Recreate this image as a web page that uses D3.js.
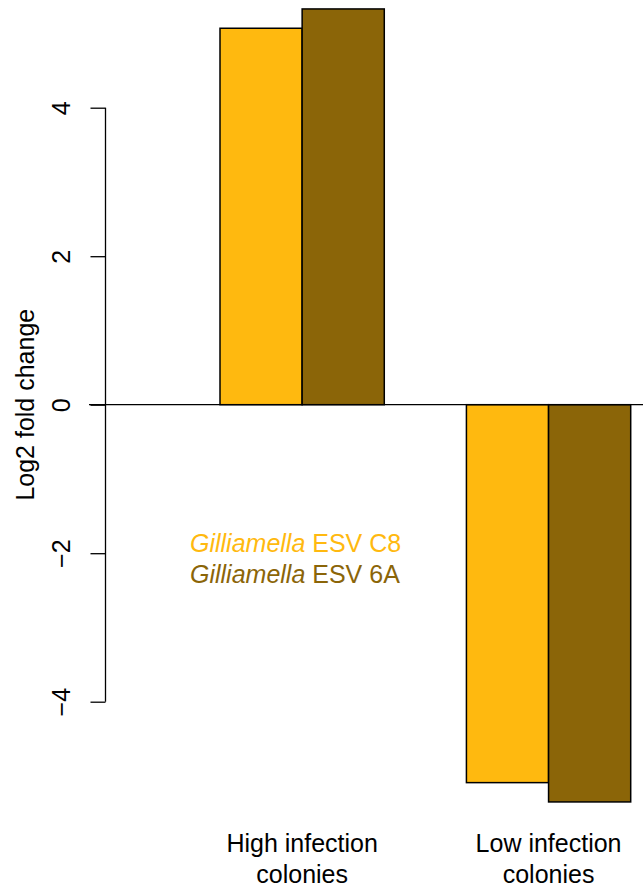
<!DOCTYPE html>
<html><head><meta charset="utf-8">
<script src="https://cdn.jsdelivr.net/npm/d3@7"></script>
<style>body{margin:0;background:#fff}svg{display:block}text{font-family:"Liberation Sans",Arial,sans-serif}</style>
</head><body>
<script>
const groups = ["High infection colonies", "Low infection colonies"];
const groupLines = [["High infection", "colonies"], ["Low infection", "colonies"]];
const seriesNames = ["ESV C8", "ESV 6A"];
const seriesColors = ["#FFB90F", "#8B6508"];
const valuesC8 = [5.07, -5.09];
const values6A = [5.33, -5.35];
const yTicks = [-4, -2, 0, 2, 4];

const W = 643, H = 886, FS = 25;
const svg = d3.select("body").append("svg").attr("width", W).attr("height", H);

const y = d3.scaleLinear().domain([-4, 4]).range([701.7, 107.7]);
const xGroup = d3.scaleBand().domain(groups).range([220, 630.7]).paddingInner(1/3).paddingOuter(0);
const xSeries = d3.scaleBand().domain(seriesNames).range([0, xGroup.bandwidth()]);

const data = [];
groups.forEach((g, i) => {
  data.push({g, s: seriesNames[0], v: valuesC8[i], c: seriesColors[0]});
  data.push({g, s: seriesNames[1], v: values6A[i], c: seriesColors[1]});
});

svg.append("g").selectAll("rect").data(data).join("rect")
  .attr("x", d => xGroup(d.g) + xSeries(d.s))
  .attr("width", xSeries.bandwidth())
  .attr("y", d => Math.min(y(d.v), y(0)))
  .attr("height", d => Math.abs(y(d.v) - y(0)))
  .attr("fill", d => d.c)
  .attr("stroke", "#000").attr("stroke-width", 1.5);

// zero line
svg.append("line").attr("x1", 89).attr("x2", W).attr("y1", y(0)).attr("y2", y(0))
  .attr("stroke", "#000").attr("stroke-width", 1.3);

// y axis
const axis = d3.axisLeft(y).tickValues(yTicks).tickSize(15).tickPadding(0)
  .tickFormat(d => d < 0 ? "\u2212" + Math.abs(d) : String(d));
const ag = svg.append("g").attr("transform", "translate(105.5,0)").call(axis);
ag.select(".domain").attr("d", `M0,${y(4)}V${y(-4)}`).attr("stroke-width", 1.3);
ag.selectAll(".tick line").attr("stroke-width", 1.3);
ag.selectAll(".tick text").attr("font-size", FS).attr("fill", "#000")
  .attr("text-anchor", "middle").attr("dy", 0).attr("x", 0).attr("y", 0)
  .attr("transform", `translate(${70-105.5},0) rotate(-90)`);

// y label
svg.append("text").attr("transform", `translate(34,${y(0)}) rotate(-90)`)
  .attr("text-anchor", "middle").attr("font-size", FS).text("Log2 fold change");

// x category labels
groups.forEach((g, i) => {
  const cx = xGroup(g) + xGroup.bandwidth() / 2;
  groupLines[i].forEach((ln, j) => {
    svg.append("text").attr("x", cx).attr("y", 852 + j * 31)
      .attr("text-anchor", "middle").attr("font-size", FS).text(ln);
  });
});

// legend
seriesNames.forEach((s, i) => {
  const t = svg.append("text").attr("x", 190).attr("y", 552 + i * 31)
    .attr("font-size", FS).attr("fill", seriesColors[i]);
  t.append("tspan").attr("font-style", "italic").text("Gilliamella");
  t.append("tspan").text(" " + s);
});
</script>
</body></html>
